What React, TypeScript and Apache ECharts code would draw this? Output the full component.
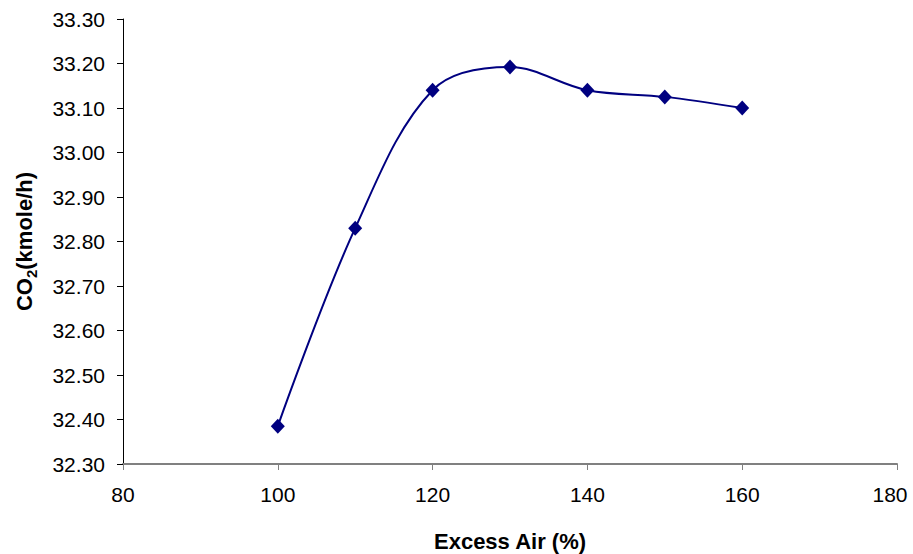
import React, { useEffect, useRef } from "react";
import * as echarts from "echarts";

const excessAir = [100, 110, 120, 130, 140, 150, 160];
const co2 = [32.385, 32.83, 33.14, 33.192, 33.14, 33.125, 33.1];
const xTicks = { min: 80, max: 180, interval: 20 };
const yTicks = { min: 32.3, max: 33.3, interval: 0.1 };

export default function App() {
  const ref = useRef<HTMLDivElement>(null);
  useEffect(() => {
    const chart = echarts.init(ref.current!, null, { renderer: "svg" });
    const font = "'Liberation Sans', Arial, sans-serif";
    chart.setOption({
      animation: false,
      backgroundColor: "#ffffff",
      grid: { left: 123, right: 16, top: 19, bottom: 90, containLabel: false, outerBoundsMode: "none" },
      xAxis: {
        type: "value",
        min: xTicks.min,
        max: xTicks.max,
        interval: xTicks.interval,
        name: "Excess Air (%)",
        nameLocation: "middle",
        nameGap: 66,
        nameTextStyle: { fontFamily: font, fontSize: 22, fontWeight: "bold", color: "#000" },
        axisLine: { show: true, onZero: false, lineStyle: { color: "#808080", width: 2 } },
        axisTick: { show: true, length: 6, lineStyle: { color: "#808080", width: 1 } },
        axisLabel: {
          fontFamily: font,
          fontSize: 21,
          color: "#000",
          margin: 20,
          formatter: (v: number) => (v === xTicks.max ? `{r|${v}}` : `${v}`),
          rich: {
            r: { fontFamily: font, fontSize: 21, color: "#000", padding: [0, 14, 0, 0] },
          },
        },
        splitLine: { show: false },
      },
      yAxis: {
        type: "value",
        min: yTicks.min,
        max: yTicks.max,
        interval: yTicks.interval,
        name: "{a|CO}{s|2}{a|(kmole/h)}",
        nameLocation: "middle",
        nameGap: 88,
        nameTextStyle: {
          fontFamily: font,
          color: "#000",
          rich: {
            a: { fontFamily: font, fontSize: 22, fontWeight: "bold", color: "#000", lineHeight: 26, verticalAlign: "bottom" },
            s: { fontFamily: font, fontSize: 15, fontWeight: "bold", color: "#000", lineHeight: 18, verticalAlign: "bottom", padding: [0, 0, -4, 0] },
          },
        },
        axisLine: { show: true, lineStyle: { color: "#000", width: 1 } },
        axisTick: { show: true, length: 6, lineStyle: { color: "#000", width: 1 } },
        axisLabel: {
          fontFamily: font,
          fontSize: 21,
          color: "#000",
          margin: 18,
          formatter: (v: number) => v.toFixed(2),
        },
        splitLine: { show: false },
      },
      series: [
        {
          type: "line",
          data: excessAir.map((x, i) => [x, co2[i]]),
          smooth: 0.35,
          symbol: "diamond",
          symbolSize: [14, 15],
          lineStyle: { color: "#000080", width: 2 },
          itemStyle: { color: "#000080" },
        },
      ],
    });
    return () => chart.dispose();
  }, []);
  return (
    <div
      ref={ref}
      style={{ position: "fixed", left: 0, top: 0, width: 913, height: 554, background: "#fff" }}
    />
  );
}
